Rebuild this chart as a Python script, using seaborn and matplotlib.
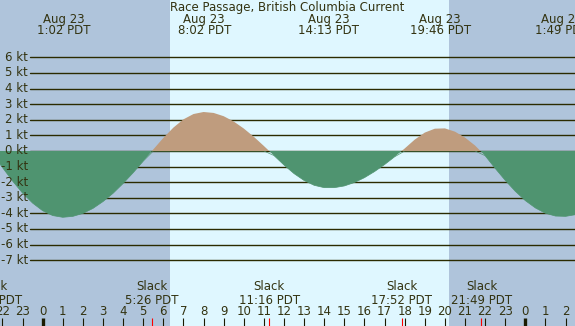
import numpy as np
import pandas as pd
import matplotlib
matplotlib.use("Agg")
import matplotlib.pyplot as plt
import seaborn as sns

# data: hours after 0:00 Aug 23, current in knots
hours = [-2.5, -2.0, -1.5, -1.0, -0.5, 0.0, 0.5, 1.0, 1.5, 2.0, 2.5, 3.0, 3.5,
         4.0, 4.5, 5.0, 5.5, 6.0, 6.5, 7.0, 7.5, 8.0, 8.5, 9.0, 9.5, 10.0,
         10.5, 11.0, 11.5, 12.0, 12.5, 13.0, 13.5, 14.0, 14.5, 15.0, 15.5,
         16.0, 16.5, 17.0, 17.5, 18.0, 18.5, 19.0, 19.5, 20.0, 20.5, 21.0,
         21.5, 22.0, 22.5, 23.0, 23.5, 24.0, 24.5, 25.0, 25.5, 26.0, 26.5]
speed_kt = [-0.15, -1.06, -1.92, -2.70, -3.34, -3.83, -4.14, -4.25, -4.19,
            -4.00, -3.68, -3.24, -2.71, -2.08, -1.39, -0.65, 0.10, 0.84,
            1.50, 2.03, 2.37, 2.50, 2.44, 2.23, 1.89, 1.44, 0.91, 0.32,
            -0.29, -0.90, -1.45, -1.89, -2.20, -2.35, -2.35, -2.24, -2.02,
            -1.71, -1.32, -0.87, -0.37, 0.16, 0.73, 1.18, 1.43, 1.45, 1.24,
            0.86, 0.35, -0.30, -1.11, -1.88, -2.58, -3.18, -3.65, -3.99,
            -4.17, -4.19, -4.08]

# max current events (top labels)
peak_hours = [1 + 2/60, 8 + 2/60, 14 + 13/60, 19 + 46/60, 25 + 49/60]
peak_dates = ["Aug 23", "Aug 23", "Aug 23", "Aug 23", "Aug 24"]
peak_times = ["1:02 PDT", "8:02 PDT", "14:13 PDT", "19:46 PDT", "1:49 PDT"]

# slack events (bottom labels)
slack_hours = [-2 - 33/60, 5 + 26/60, 11 + 16/60, 17 + 52/60, 21 + 49/60]
slack_times = ["21:27 PDT", "5:26 PDT", "11:16 PDT", "17:52 PDT", "21:49 PDT"]

sunrise = 6 + 20/60
sunset = 20 + 12/60

levels = list(range(-7, 7))
hour_ticks = list(range(-2, 27))

title = "Race Passage, British Columbia Current"

night_col = "#AFC4DB"
day_col = "#DFF7FF"
ebb_col = "#4F9470"
flood_col = "#BF9C7E"
ink = "#333311"

df = pd.DataFrame({"hour": hours, "kt": speed_kt})

sns.set_style("white")
plt.rcParams["font.family"] = ["DejaVu Sans"]

W, H = 575, 326
fig = plt.figure(figsize=(W / 100, H / 100), dpi=100)
ax = fig.add_axes([0, 0, 1, 1])

# pixel layout: hour 0 at x=42.7, 20.11 px per hour; 0 kt at y=151, 15.6 px per kt
x0, pxh = 42.7, 20.11
y0, pxk = 151, 15.6
xl = (0 - x0) / pxh
xr = (W - x0) / pxh
yt = y0 / pxk
yb = (y0 - H) / pxk
ax.set_xlim(xl, xr)
ax.set_ylim(yb, yt)
ax.axis("off")

def yfrac(py):
    return 1 - py / H

# night / day background
ax.axvspan(xl, sunrise, color=night_col, lw=0, zorder=0)
ax.axvspan(sunrise, sunset, color=day_col, lw=0, zorder=0)
ax.axvspan(sunset, xr, color=night_col, lw=0, zorder=0)

# knot lines and labels
for lv in levels:
    ax.axhline(lv, xmin=30 / W, xmax=1, color="#2b2b00", lw=1.0, zorder=1)
    ax.text(28 / W, lv, f"{lv} kt", transform=ax.get_yaxis_transform(),
            ha="right", va="center", fontsize=8.5, color=ink, zorder=5)

# current curve
kt = df["kt"].to_numpy()
sns.lineplot(x=df["hour"], y=np.minimum(kt, 0), color=ebb_col, lw=0.5, ax=ax, zorder=2)
ax.fill_between(df["hour"], kt, 0, where=kt <= 0, interpolate=True,
                color=ebb_col, lw=0, zorder=3)
ax.fill_between(df["hour"], kt, 0, where=kt >= 0, interpolate=True,
                color=flood_col, lw=0, zorder=3)

# title and top labels
ax.text(0.5, yfrac(7.5), title, transform=ax.transAxes,
        ha="center", va="center", fontsize=8.5, color=ink, zorder=5)
for h, d, t in zip(peak_hours, peak_dates, peak_times):
    ax.text(h, yfrac(19), d, transform=ax.get_xaxis_transform(),
            ha="center", va="center", fontsize=8.5, color=ink, zorder=5)
    ax.text(h, yfrac(31), t, transform=ax.get_xaxis_transform(),
            ha="center", va="center", fontsize=8.5, color=ink, zorder=5)

# slack labels
for h, t in zip(slack_hours, slack_times):
    ax.text(h, yfrac(287), "Slack", transform=ax.get_xaxis_transform(),
            ha="center", va="center", fontsize=8.5, color=ink, zorder=5)
    ax.text(h, yfrac(300), t, transform=ax.get_xaxis_transform(),
            ha="center", va="center", fontsize=8.5, color=ink, zorder=5)

# hour ticks
for h in hour_ticks:
    ax.text(h, yfrac(311.5), str(h % 24), transform=ax.get_xaxis_transform(),
            ha="center", va="center", fontsize=8.5, color=ink, zorder=5)
    bold = h % 24 == 0
    ax.plot([h, h], [yfrac(318), 0], transform=ax.get_xaxis_transform(),
            color="#1a1a00", lw=2.4 if bold else 0.8, solid_capstyle="butt", zorder=5)
for h in slack_hours:
    ax.plot([h, h], [yfrac(318), 0], transform=ax.get_xaxis_transform(),
            color="red", lw=0.8, solid_capstyle="butt", zorder=5)

fig.savefig("out.png", dpi=100)
